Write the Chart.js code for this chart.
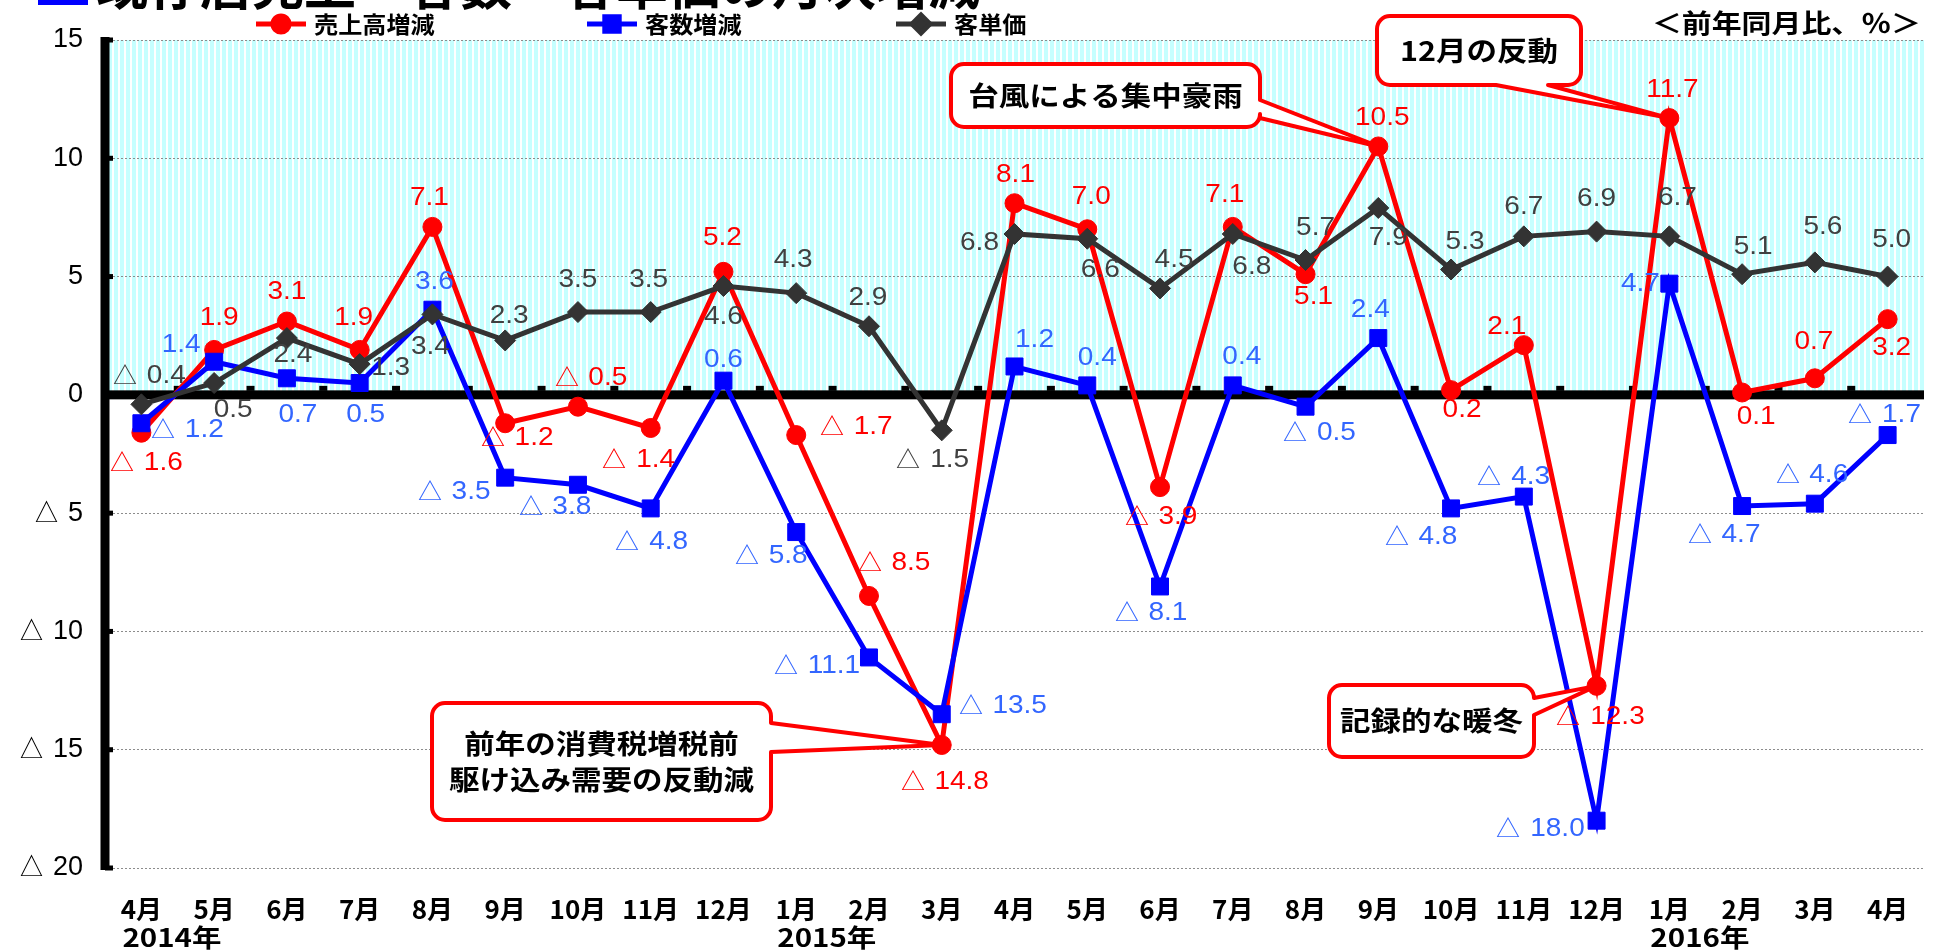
<!DOCTYPE html>
<html lang="ja">
<head>
<meta charset="utf-8">
<title>既存店 売上高・客数・客単価</title>
<script src="https://cdn.jsdelivr.net/npm/chart.js@4.4.1/dist/chart.umd.min.js"></script>
<style>
html, body { margin: 0; padding: 0; background: #fff; }
#wrap { width: 1937px; height: 952px; }
</style>
</head>
<body>
<div id="wrap"><canvas id="mycanvas" width="1937" height="952"></canvas></div>
<script>
// x axis: 2014/4 .. 2016/4
var months = ['4月', '5月', '6月', '7月', '8月', '9月', '10月', '11月', '12月', '1月', '2月', '3月',
              '4月', '5月', '6月', '7月', '8月', '9月', '10月', '11月', '12月', '1月', '2月', '3月', '4月'];
var yearNames = ['2014年', '2015年', '2016年'];
var yearStart = [0, 9, 21];

// 前年同月比 (%)
var sales     = [-1.6, 1.9, 3.1, 1.9, 7.1, -1.2, -0.5, -1.4, 5.2, -1.7, -8.5, -14.8,
                 8.1, 7.0, -3.9, 7.1, 5.1, 10.5, 0.2, 2.1, -12.3, 11.7, 0.1, 0.7, 3.2];
var customers = [-1.2, 1.4, 0.7, 0.5, 3.6, -3.5, -3.8, -4.8, 0.6, -5.8, -11.1, -13.5,
                 1.2, 0.4, -8.1, 0.4, -0.5, 2.4, -4.8, -4.3, -18.0, 4.7, -4.7, -4.6, -1.7];
var unitPrice = [-0.4, 0.5, 2.4, 1.3, 3.4, 2.3, 3.5, 3.5, 4.6, 4.3, 2.9, -1.5,
                 6.8, 6.6, 4.5, 6.8, 5.7, 7.9, 5.3, 6.7, 6.9, 6.7, 5.1, 5.6, 5.0];

var yMin = -20, yMax = 15, yStep = 5;

// where each value label sits, relative to its point (px)
var salesLabelPos = [[4,30],[5,-32],[0,-29],[-6,-32],[-3,-29],[11,15],[12,-29],[-13,32],[-1,-34],[59,-8],
                     [24,-33],[2,37],[1,-28],[4,-32],[0,30],[-8,-32],[8,23],[4,-28],[11,20],[-17,-18],
                     [3,31],[3,-28],[14,25],[-1,-36],[4,29]];
var custLabelPos  = [[45,7],[-33,-17],[11,37],[6,32],[2,-28],[-52,14],[-24,22],[0,34],[0,-21],[-26,24],
                     [-53,9],[60,-8],[20,-26],[10,-27],[-10,27],[9,-28],[13,26],[-8,-28],[-31,29],[-11,-19],
                     [-57,8],[-29,0],[-19,29],[-4,-29],[-4,-20]];
var priceLabelPos = [[7,-28],[19,27],[6,17],[31,4],[-2,33],[4,-24],[0,-32],[-2,-32],[0,31],[-3,-33],
                     [-1,-28],[-10,30],[-35,9],[13,31],[14,-28],[19,33],[10,-32],[10,30],[14,-27],[0,-29],
                     [0,-33],[8,-38],[11,-27],[8,-35],[4,-36]];

// callouts: box [x, y, w, h], wedge base on one side, tip at a sales point
var notes = [
    { lines: ['台風による集中豪雨'], index: 17, box: [951, 64, 309, 63], side: 'right', wedge: [100, 118] },
    { lines: ['12月の反動'], index: 21, box: [1377, 16, 204, 69], side: 'bottom', wedge: [1496, 1548] },
    { lines: ['前年の消費税増税前', '駆け込み需要の反動減'], index: 11, box: [432, 703, 339, 117], side: 'right', wedge: [723, 752] },
    { lines: ['記録的な暖冬'], index: 20, box: [1329, 685, 205, 72], side: 'right', wedge: [698, 715] }
];

var legendX = [256, 587, 896];

var JP = '"Noto Sans CJK JP", sans-serif';
var NUM = '"Liberation Sans", Arial, sans-serif';

function fmt(v) {
    return v < 0 ? '△ ' + Math.abs(v).toFixed(1) : v.toFixed(1);
}

function stretchText(ctx, text, x, y, color, font, sx, align) {
    ctx.save();
    ctx.translate(x, y);
    ctx.scale(sx, 1);
    ctx.font = font;
    ctx.fillStyle = color;
    ctx.textAlign = align;
    ctx.textBaseline = 'middle';
    ctx.fillText(text, 0, 0);
    ctx.restore();
}

var stripes = {
    id: 'stripes',
    beforeDraw: function(chart) {
        var ctx = chart.ctx, a = chart.chartArea, y = chart.scales.y;
        ctx.save();
        ctx.fillStyle = '#fff';
        ctx.fillRect(0, 0, chart.width, chart.height);
        var tile = document.createElement('canvas');
        tile.width = 6; tile.height = 1;
        var t = tile.getContext('2d');
        t.fillStyle = '#fff'; t.fillRect(0, 0, 6, 1);
        t.fillStyle = '#c6ffff'; t.fillRect(0, 0, 4, 1);
        ctx.fillStyle = ctx.createPattern(tile, 'repeat');
        var top = y.getPixelForValue(yMax), zero = y.getPixelForValue(0);
        ctx.fillRect(a.left, top, a.right - a.left, zero - top);
        ctx.restore();
    }
};

var axisMarks = {
    id: 'axisMarks',
    beforeDatasetsDraw: function(chart) {
        var ctx = chart.ctx, a = chart.chartArea, x = chart.scales.x, y = chart.scales.y;
        var zero = y.getPixelForValue(0);
        ctx.save();
        ctx.fillStyle = '#000';
        ctx.fillRect(a.left, zero - 4.5, a.right - a.left, 9);
        for (var i = 1; i < months.length; i++) {
            var bx = (x.getPixelForValue(i - 1) + x.getPixelForValue(i)) / 2;
            ctx.fillRect(bx - 4, zero - 9, 8, 5);
        }
        y.ticks.forEach(function(t) {
            var py = y.getPixelForValue(t.value);
            ctx.fillRect(a.left, py - 2.5, 8, 5);
        });
        ctx.fillRect(a.left - 4.5, a.top - 3, 9, a.bottom - a.top + 5);
        ctx.restore();
    }
};

var valueLabels = {
    id: 'valueLabels',
    afterDatasetsDraw: function(chart) {
        var ctx = chart.ctx;
        chart.data.datasets.forEach(function(ds, di) {
            var meta = chart.getDatasetMeta(di);
            meta.data.forEach(function(pt, i) {
                var off = ds.labelPos[i];
                stretchText(ctx, fmt(ds.data[i]), pt.x + off[0], pt.y + off[1], ds.labelColor,
                            '25px ' + NUM, 1.12, 'center');
            });
        });
    }
};

function calloutPath(ctx, n, tip) {
    var x = n.box[0], y = n.box[1], w = n.box[2], h = n.box[3], r = 13;
    ctx.beginPath();
    ctx.moveTo(x + r, y);
    ctx.lineTo(x + w - r, y);
    ctx.arcTo(x + w, y, x + w, y + r, r);
    if (n.side === 'right') {
        ctx.lineTo(x + w, n.wedge[0]);
        ctx.lineTo(tip.x, tip.y);
        ctx.lineTo(x + w, n.wedge[1]);
    }
    ctx.lineTo(x + w, y + h - r);
    ctx.arcTo(x + w, y + h, x + w - r, y + h, r);
    if (n.side === 'bottom') {
        ctx.lineTo(n.wedge[1], y + h);
        ctx.lineTo(tip.x, tip.y);
        ctx.lineTo(n.wedge[0], y + h);
    }
    ctx.lineTo(x + r, y + h);
    ctx.arcTo(x, y + h, x, y + h - r, r);
    ctx.lineTo(x, y + r);
    ctx.arcTo(x, y, x + r, y, r);
    ctx.closePath();
}

var callouts = {
    id: 'callouts',
    afterDatasetsDraw: function(chart) {
        var ctx = chart.ctx;
        var pts = chart.getDatasetMeta(0).data;
        notes.forEach(function(n) {
            var tip = pts[n.index];
            ctx.save();
            calloutPath(ctx, n, tip);
            ctx.fillStyle = '#fff';
            ctx.fill();
            ctx.lineWidth = 4;
            ctx.lineJoin = 'round';
            ctx.strokeStyle = '#ff0000';
            ctx.stroke();
            ctx.restore();
            var cx = n.box[0] + n.box[2] / 2, cy = n.box[1] + n.box[3] / 2;
            var gap = 36;
            n.lines.forEach(function(line, k) {
                var ly = cy + (k - (n.lines.length - 1) / 2) * gap;
                stretchText(ctx, line, cx, ly, '#000', 'bold 27px ' + JP, 1.13, 'center');
            });
        });
    }
};

var header = {
    id: 'header',
    afterDraw: function(chart) {
        var ctx = chart.ctx, x = chart.scales.x;
        ctx.save();
        // title (cut off at the top edge)
        ctx.fillStyle = '#0000ff';
        ctx.fillRect(38, -20, 50, 25);
        ctx.fillStyle = '#000';
        ctx.font = 'bold 52px ' + JP;
        ctx.textAlign = 'left';
        ctx.textBaseline = 'alphabetic';
        ctx.fillText('既存店売上・客数・客単価の月次増減', 96, 5);
        ctx.restore();

        // legend
        chart.data.datasets.forEach(function(ds, i) {
            var lx = legendX[i], ly = 24;
            ctx.save();
            ctx.strokeStyle = ds.borderColor;
            ctx.lineWidth = 5;
            ctx.beginPath();
            ctx.moveTo(lx, ly);
            ctx.lineTo(lx + 50, ly);
            ctx.stroke();
            ctx.fillStyle = ds.borderColor;
            ctx.strokeStyle = ds.borderColor;
            Chart.helpers.drawPoint(ctx, { pointStyle: ds.pointStyle, radius: ds.pointRadius * 0.85, rotation: 0, borderWidth: 1 }, lx + 25, ly);
            ctx.restore();
            stretchText(ctx, ds.label, lx + 58, ly, '#000', 'bold 23px ' + JP, 1.05, 'left');
        });

        stretchText(ctx, '＜前年同月比、％＞', 1921, 23, '#000', 'bold 26px ' + JP, 1.15, 'right');

        // year under the month labels
        yearNames.forEach(function(name, k) {
            var px = x.getPixelForValue(yearStart[k]) - 19;
            stretchText(ctx, name, px, 937, '#000', 'bold 25px ' + JP, 1.18, 'left');
        });
    }
};

var chartdata = {
    labels: months,
    datasets: [
        {
            label: '売上高増減',
            data: sales,
            borderColor: '#ff0000',
            backgroundColor: '#ff0000',
            borderWidth: 5,
            pointStyle: 'circle',
            pointRadius: 9.5,
            pointBorderWidth: 1,
            labelColor: '#ff0000',
            labelPos: salesLabelPos,
            order: 3
        },
        {
            label: '客数増減',
            data: customers,
            borderColor: '#0000ff',
            backgroundColor: '#0000ff',
            borderWidth: 5,
            pointStyle: 'rect',
            pointRadius: 12,
            pointBorderWidth: 1,
            labelColor: '#3366ff',
            labelPos: custLabelPos,
            order: 2
        },
        {
            label: '客単価',
            data: unitPrice,
            borderColor: '#333333',
            backgroundColor: '#333333',
            borderWidth: 5,
            pointStyle: 'rectRot',
            pointRadius: 10.5,
            pointBorderWidth: 1,
            labelColor: '#404040',
            labelPos: priceLabelPos,
            order: 1
        }
    ]
};

var ctx = document.getElementById('mycanvas');

var LineGraph = new Chart(ctx, {
    type: 'line',
    data: chartdata,
    options: {
        responsive: false,
        animation: false,
        devicePixelRatio: 1,
        events: [],
        layout: { padding: { top: 40, right: 0, bottom: 0, left: 0 } },
        elements: { line: { tension: 0 } },
        plugins: {
            legend: { display: false },
            title: { display: false },
            tooltip: { enabled: false }
        },
        scales: {
            x: {
                type: 'category',
                offset: true,
                grid: { display: false },
                border: { display: false },
                ticks: {
                    autoSkip: false,
                    maxRotation: 0,
                    padding: 18,
                    color: '#000',
                    font: { family: JP, size: 26, weight: 'bold' }
                },
                afterFit: function(scale) { scale.height = 84; }
            },
            y: {
                min: yMin,
                max: yMax,
                grid: {
                    drawTicks: false,
                    lineWidth: 1,
                    color: function(c) {
                        return c.tick && c.tick.value === 0 ? 'rgba(0,0,0,0)' : '#8c8c8c';
                    }
                },
                border: { display: false, dash: [2, 2] },
                ticks: {
                    stepSize: yStep,
                    padding: 22,
                    color: '#000',
                    font: { family: NUM, size: 27 },
                    callback: function(v) { return v < 0 ? '△ ' + (-v) : String(v); }
                },
                afterFit: function(scale) { scale.width = 105; }
            }
        }
    },
    plugins: [stripes, axisMarks, valueLabels, callouts, header]
});
</script>
</body>
</html>
